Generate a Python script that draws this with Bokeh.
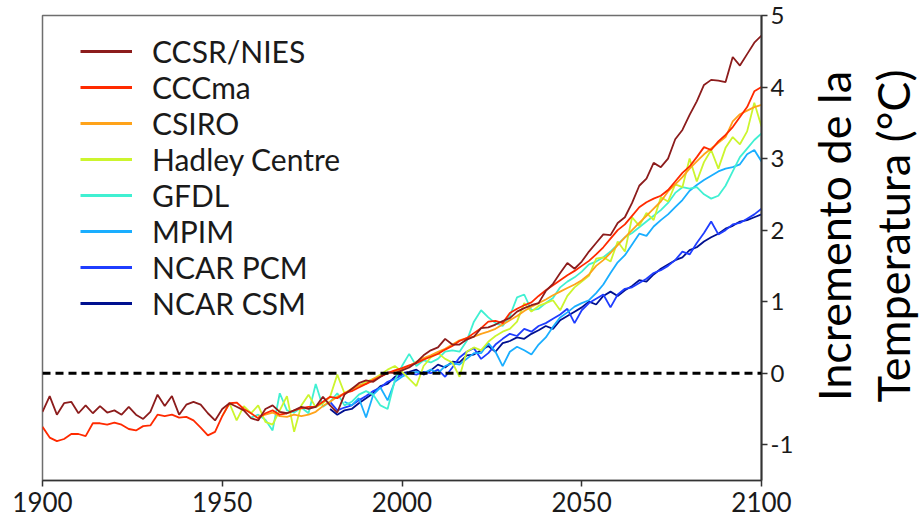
import math
from bokeh.plotting import figure
from bokeh.layouts import row
from bokeh.models import Span, Legend, LegendItem, FixedTicker, Range1d
from bokeh.core.properties import value
from bokeh.embed import file_html
from bokeh.resources import INLINE

# ---------------- data (temperature change, °C; one value every 2 years) ----------------
series_names = ["CCSR/NIES", "CCCma", "CSIRO", "Hadley Centre", "GFDL", "MPIM", "NCAR PCM", "NCAR CSM"]
series_colors = ["#8c1c1c", "#ff2a00", "#ffa31a", "#ccf52e", "#40f0d2", "#1aaeff", "#1f3dff", "#00108f"]
year_step = 2

ccsr_nies_start = 1900
ccsr_nies = [
    -0.54, -0.32, -0.58, -0.42, -0.40,
    -0.56, -0.45, -0.56, -0.46, -0.55,
    -0.52, -0.58, -0.47, -0.58, -0.64,
    -0.54, -0.30, -0.46, -0.32, -0.58,
    -0.44, -0.40, -0.44, -0.56, -0.66,
    -0.50, -0.42, -0.47, -0.52, -0.63,
    -0.66, -0.50, -0.45, -0.54, -0.56,
    -0.52, -0.47, -0.50, -0.47, -0.33,
    -0.45, -0.55, -0.30, -0.22, -0.14,
    -0.10, -0.12, -0.05, 0.01, 0.00,
    0.04, 0.08, 0.15, 0.25, 0.32,
    0.36, 0.48, 0.40, 0.40, 0.47,
    0.51, 0.63, 0.64, 0.68, 0.73,
    0.77, 0.86, 0.91, 0.95, 0.98,
    1.15, 1.25, 1.40, 1.54, 1.46,
    1.56, 1.70, 1.82, 1.94, 1.93,
    2.10, 2.18, 2.38, 2.62, 2.72,
    2.94, 2.88, 3.00, 3.27, 3.40,
    3.61, 3.80, 4.03, 4.10, 4.09,
    4.07, 4.42, 4.30, 4.46, 4.62,
    4.72,
]

cccma_start = 1900
cccma = [
    -0.75, -0.90, -0.95, -0.92, -0.85,
    -0.85, -0.88, -0.70, -0.70, -0.72,
    -0.69, -0.72, -0.78, -0.80, -0.74,
    -0.73, -0.58, -0.60, -0.58, -0.62,
    -0.61, -0.66, -0.76, -0.87, -0.82,
    -0.60, -0.42, -0.41, -0.50, -0.56,
    -0.63, -0.56, -0.52, -0.58, -0.56,
    -0.52, -0.49, -0.47, -0.47, -0.40,
    -0.33, -0.35, -0.28, -0.25, -0.20,
    -0.15, -0.10, -0.05, 0.00, 0.04,
    0.07, 0.11, 0.14, 0.19, 0.23,
    0.27, 0.33, 0.38, 0.45, 0.49,
    0.56, 0.63, 0.72, 0.73, 0.70,
    0.84, 0.90, 0.95, 0.99, 1.08,
    1.16, 1.23, 1.30, 1.37, 1.43,
    1.50, 1.57, 1.66, 1.76, 1.88,
    2.00, 2.08, 2.20, 2.32, 2.39,
    2.44, 2.48, 2.56, 2.68, 2.80,
    2.89, 3.02, 3.16, 3.12, 3.24,
    3.33, 3.44, 3.58, 3.72, 3.94,
    4.00,
]

csiro_start = 1960
csiro = [
    -0.60, -0.58, -0.55, -0.60, -0.61,
    -0.58, -0.60, -0.58, -0.54, -0.46,
    -0.40, -0.33, -0.28, -0.22, -0.17,
    -0.15, -0.08, -0.04, 0.00, 0.03,
    0.06, 0.10, 0.16, 0.21, 0.25,
    0.30, 0.34, 0.40, 0.46, 0.49,
    0.51, 0.55, 0.58, 0.62, 0.68,
    0.74, 0.80, 0.87, 0.93, 0.98,
    1.03, 1.09, 1.14, 1.19, 1.24,
    1.30, 1.38, 1.50, 1.58, 1.68,
    1.79, 1.90, 2.00, 2.10, 2.20,
    2.30, 2.40, 2.54, 2.64, 2.74,
    2.86, 2.96, 3.06, 3.14, 3.22,
    3.30, 3.52, 3.62, 3.67, 3.72,
    3.75,
]

hadley_start = 1950
hadley = [
    -0.60, -0.42, -0.66, -0.46, -0.56,
    -0.45, -0.68, -0.72, -0.52, -0.32,
    -0.82, -0.45, -0.30, -0.48, -0.42,
    -0.33, -0.02, -0.28, -0.22, -0.18,
    -0.12, -0.08, -0.02, 0.05, 0.10,
    0.02, -0.08, -0.18, 0.10, 0.22,
    0.28, 0.20, 0.15, -0.05, 0.30,
    0.36, 0.32, 0.44, 0.52, 0.58,
    0.62, 0.72, 0.98, 0.86, 0.94,
    0.98, 1.02, 0.88, 1.08, 1.20,
    1.28, 1.36, 1.60, 1.62, 1.56,
    1.84, 1.70, 2.18, 2.06, 2.24,
    2.14, 2.46, 2.40, 2.64, 2.60,
    3.00, 2.68, 2.95, 3.12, 2.86,
    3.15, 3.30, 3.20, 3.38, 3.78,
    3.45,
]

gfdl_start = 1958
gfdl = [
    -0.62,
    -0.58, -0.65, -0.80, -0.28, -0.52,
    -0.55, -0.48, -0.56, -0.15, -0.47,
    -0.40, -0.28, -0.45, -0.40, -0.30,
    -0.25, -0.30, -0.45, -0.50, -0.10,
    0.10, 0.27, 0.10, 0.18, 0.15,
    0.20, 0.30, 0.32, 0.30, 0.45,
    0.72, 0.88, 0.78, 0.70, 0.66,
    0.80, 1.06, 1.10, 0.88, 0.90,
    0.98, 1.05, 1.20, 1.28, 1.34,
    1.42, 1.52, 1.56, 1.62, 1.70,
    1.80, 1.90, 1.96, 2.04, 2.12,
    2.20, 2.28, 2.38, 2.52, 2.60,
    2.58, 2.60, 2.50, 2.44, 2.48,
    2.62, 2.82, 3.02, 3.14, 3.26,
    3.35,
]

mpim_start = 1984
mpim = [
    -0.40, -0.45, -0.35,
    -0.62, -0.30, -0.20, -0.38, -0.12,
    -0.05, 0.00, 0.02, 0.00, 0.05,
    0.00, 0.10, 0.14, 0.12, 0.20,
    0.28, 0.28, 0.42, 0.30, 0.10,
    0.30, 0.37, 0.32, 0.26, 0.40,
    0.50, 0.65, 0.78, 0.85, 0.93,
    0.98, 1.02, 1.12, 1.24, 1.40,
    1.55, 1.65, 1.80, 1.95, 1.92,
    2.05, 2.14, 2.22, 2.32, 2.42,
    2.55, 2.63, 2.70, 2.76, 2.82,
    2.86, 2.88, 2.92, 3.06, 3.12,
    2.96,
]

ncar_pcm_start = 1980
ncar_pcm = [
    -0.40, -0.52, -0.48, -0.45, -0.38,
    -0.32, -0.25, -0.20, -0.12, -0.08,
    -0.02, 0.00, -0.02, 0.02, 0.00,
    0.05, -0.05, 0.08, 0.22, 0.30,
    0.35, 0.20, 0.28, 0.40, 0.48,
    0.55, 0.52, 0.62, 0.58, 0.66,
    0.70, 0.76, 0.82, 0.90, 0.70,
    0.88, 0.98, 1.04, 1.10, 0.92,
    1.10, 1.18, 1.20, 1.26, 1.32,
    1.40, 1.44, 1.50, 1.58, 1.70,
    1.66, 1.82, 1.96, 2.12, 1.94,
    2.00, 2.08, 2.10, 2.16, 2.22,
    2.30,
]

ncar_csm_start = 1980
ncar_csm = [
    -0.50, -0.58, -0.52, -0.50, -0.42,
    -0.35, -0.28, -0.18, -0.15, -0.05,
    0.00, 0.02, 0.05, -0.02, 0.04,
    0.12, 0.08, 0.16, 0.15, 0.25,
    0.26, 0.32, 0.38, 0.30, 0.42,
    0.45, 0.50, 0.48, 0.55, 0.60,
    0.66, 0.62, 0.74, 0.80, 0.86,
    0.92, 1.00, 0.96, 1.08, 1.14,
    1.08, 1.16, 1.22, 1.30, 1.28,
    1.38, 1.46, 1.52, 1.58, 1.62,
    1.72, 1.76, 1.84, 1.90, 1.95,
    2.02, 2.06, 2.12, 2.14, 2.18,
    2.22,
]

x_ticks = [1900, 1950, 2000, 2050, 2100]
y_ticks = [-1, 0, 1, 2, 3, 4, 5]
y_title_lines = ["Incremento de la", "Temperatura (°C)"]

series_values = [ccsr_nies, cccma, csiro, hadley, gfdl, mpim, ncar_pcm, ncar_csm]
series_starts = [ccsr_nies_start, cccma_start, csiro_start, hadley_start,
                 gfdl_start, mpim_start, ncar_pcm_start, ncar_csm_start]

FONT = "Lato"
H = 523
MAIN_W = 801
SIDE_W = 121

p = figure(width=MAIN_W, height=H, output_backend="svg", toolbar_location=None,
           x_range=Range1d(1900, 2100), y_range=Range1d(-1.5, 5),
           y_axis_location="right",
           min_border_left=42, min_border_right=MAIN_W - 761, min_border_top=15, min_border_bottom=43)
p.grid.visible = False
p.background_fill_color = "white"
p.border_fill_color = "white"
p.outline_line_color = "#6e6e6e"
p.outline_line_width = 1.5

# zero line
p.add_layout(Span(location=0, dimension="width", line_color="black",
                  line_width=3, line_dash="8 5"))

# series (drawn last-to-first so CCSR/NIES sits on top)
for name, start, vals, color in reversed(list(zip(series_names, series_starts,
                                                   series_values, series_colors))):
    years = list(range(start, start + year_step * len(vals), year_step))
    p.line(years, vals, line_color=color, line_width=1.8)

# legend with thicker sample lines (single-point renderers draw nothing in the plot)
items = []
for name, color, start, vals in zip(series_names, series_colors, series_starts, series_values):
    sample = p.line([start], [vals[0]], line_color=color, line_width=3)
    items.append(LegendItem(label=name, renderers=[sample]))
legend = Legend(items=items, location=(38, 159), orientation="vertical",
                glyph_width=52, glyph_height=36, label_height=36, label_standoff=20,
                spacing=0, padding=0, margin=0,
                border_line_color=None, background_fill_alpha=0,
                label_text_font=FONT, label_text_font_size="30px",
                label_text_color="#1a1a1a")
p.add_layout(legend)

# axes
xa = p.xaxis[0]
xa.ticker = FixedTicker(ticks=x_ticks)
xa.major_label_text_font = FONT
xa.major_label_text_font_size = "26px"
xa.major_label_text_color = "#1a1a1a"
xa.major_label_standoff = 5
xa.major_tick_out = 6
xa.major_tick_in = 0
xa.minor_tick_line_color = None
xa.axis_line_color = "#333333"
xa.axis_line_width = 1.5
xa.major_tick_line_color = "#333333"
xa.major_tick_line_width = 1.5

ya = p.yaxis[0]
ya.ticker = FixedTicker(ticks=y_ticks)
ya.major_label_overrides = {-1: "-1"}
ya.major_label_text_font = FONT
ya.major_label_text_font_size = "24px"
ya.major_label_text_color = "#1a1a1a"
ya.major_label_standoff = 3
ya.major_tick_out = 6
ya.major_tick_in = 0
ya.minor_tick_line_color = None
ya.axis_line_color = "#333333"
ya.axis_line_width = 2
ya.major_tick_line_color = "#333333"
ya.major_tick_line_width = 1.5

# side panel holding the two-line rotated axis title (pixel coordinates)
side = figure(width=SIDE_W, height=H, output_backend="svg", toolbar_location=None,
              x_range=Range1d(0, SIDE_W), y_range=Range1d(0, H),
              x_axis_location=None, y_axis_location=None,
              min_border=0, min_border_left=0, min_border_right=0,
              min_border_top=0, min_border_bottom=0)
side.grid.visible = False
side.outline_line_color = None
side.background_fill_color = "white"
side.border_fill_color = "white"
title_baseline_x = [833 - MAIN_W, 892 - MAIN_W]
title_center_y = [H - 248, H - 248]
side.text(x=title_baseline_x, y=title_center_y, text=y_title_lines,
          angle=math.pi / 2, text_align="center", text_baseline="alphabetic",
          text_font=value(FONT), text_font_size="45px", text_color="black")

layout = row(p, side, spacing=0)
open("out.html", "w").write(file_html(layout, INLINE))
